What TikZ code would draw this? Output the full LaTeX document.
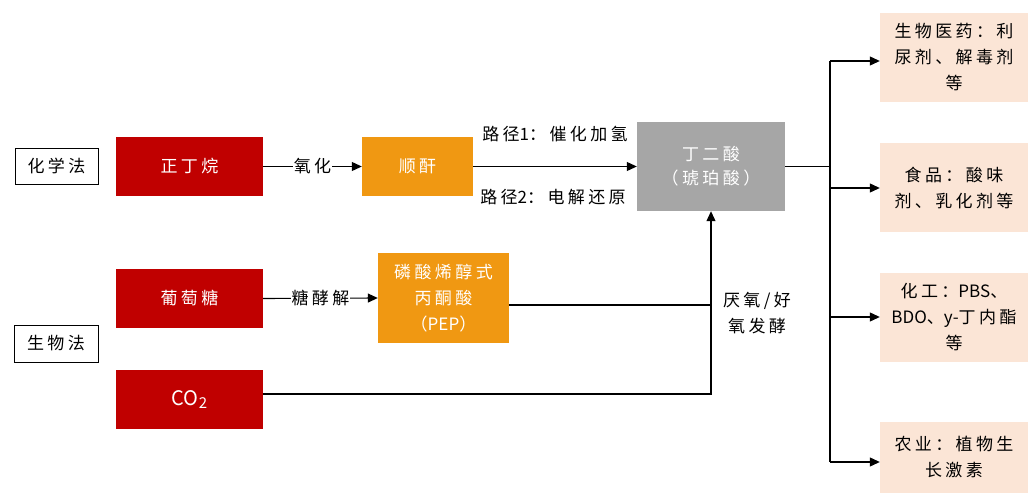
\documentclass[tikz,border=0pt]{standalone}
\usepackage{fontspec}
\setmainfont{Noto Sans CJK SC}[LetterSpace=20]
\newfontfamily\lat{Noto Sans CJK SC}
\usetikzlibrary{arrows.meta}
\definecolor{cred}{RGB}{192,0,0}
\definecolor{corange}{RGB}{240,152,18}
\definecolor{cgray}{RGB}{166,166,166}
\definecolor{cpeach}{RGB}{251,229,214}
\begin{document}
\begin{tikzpicture}[x=1pt,y=-1pt,
  every node/.style={font=\fontsize{17}{26}\selectfont, inner sep=0pt, align=center},
  redbox/.style={fill=cred, text=white, minimum width=147pt, minimum height=59pt},
  orbox/.style={fill=corange, text=white},
  outbox/.style={fill=cpeach, text=black, minimum width=148pt},
  labbox/.style={draw=black, line width=1pt, fill=white},
  conn/.style={draw=black, line width=1.1pt},
  arr/.style={conn, -{Triangle[length=10pt,width=9pt]}},
  lbl/.style={fill=white, inner xsep=1pt}
]
\useasboundingbox (0,0) rectangle (1034,495);
\fill[white] (0,0) rectangle (1034,495);
% left labels
\node[labbox, minimum width=83pt, minimum height=36pt] (chem) at (56.5,166) {化学法};
\node[labbox, minimum width=84pt, minimum height=37pt] (bio) at (56,343.5) {生物法};
% sources
\node[redbox] (butane) at (189.5,166.5) {正丁烷};
\node[redbox] (glucose) at (189.5,298.5) {葡萄糖};
\node[redbox] (co2) at (189.5,399.5) {{\lat\fontsize{20}{20}\selectfont CO\raisebox{-0.2ex}{\fontsize{15}{15}\selectfont 2}}};
% intermediates
\node[orbox, minimum width=111pt, minimum height=59pt] (ma) at (417.5,166.5) {顺酐};
\node[orbox, minimum width=131pt, minimum height=90pt] (pep) at (443.5,298) {磷酸烯醇式\\丙酮酸\\（{\lat PEP}）};
% product
\node[fill=cgray, text=white, minimum width=148pt, minimum height=89pt, font=\fontsize{17}{24}\selectfont] (sa) at (711,166.5) {丁二酸\\（琥珀酸）};
% outputs
\node[outbox, minimum height=89pt] (o1) at (954,57.5) {生物医药：利\\尿剂、解毒剂\\等};
\node[outbox, minimum height=89pt] (o2) at (954,187.5) {食品：酸味\\剂、乳化剂等};
\node[outbox, minimum height=89pt] (o3) at (954,317.5) {化工：{\lat PBS}、\\{\lat BDO}、{\lat y-}丁内酯\\等};
\node[outbox, minimum height=71pt] (o4) at (954,457.5) {农业：植物生\\长激素};
% connectors
\draw[arr] (butane.east) -- node[lbl] {氧化} (ma.west);
\draw[arr] (glucose.east) -- node[lbl] {糖酵解} (pep.west);
\draw[arr] (ma.east) -- (sa.west);
\node (p1) at (555,134) {路径{\lat 1}：催化加氢};
\node (p2) at (553,197) {路径{\lat 2}：电解还原};
\coordinate (j1) at (711,305);
\coordinate (j2) at (711,394);
\draw[conn] (pep.east |- j1) -- (j1);
\draw[arr] (co2.east |- j2) -- (j2) -- (sa.south);
\node (ferm) at (757,313) {厌氧/好\\氧发酵};
\coordinate (bt) at (830,61);
\coordinate (bb) at (830,462);
\coordinate (bm) at (830,166.5);
\draw[conn] (sa.east) -- (bm);
\draw[conn] (bt) -- (bb);
\draw[arr] (bt) -- (o1.west |- bt);
\draw[arr] (830,188) -- (o2.west |- 0,188);
\draw[arr] (830,317) -- (o3.west |- 0,317);
\draw[arr] (bb) -- (o4.west |- bb);
\end{tikzpicture}
\end{document}
